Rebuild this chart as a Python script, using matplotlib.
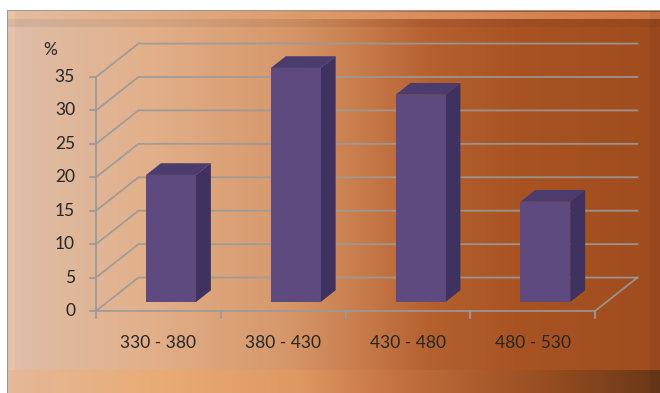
import numpy as np
import matplotlib
matplotlib.use('Agg')
import matplotlib.pyplot as plt
from matplotlib.patches import Polygon

# Data
categories = ['330 - 380', '380 - 430', '430 - 480', '480 - 530']
values = [19, 35, 31, 15]
y_ticks = [0, 5, 10, 15, 20, 25, 30, 35]
y_unit = '%'

W, H = 660, 393
# pixel -> data scale of the front plane
PX_X = 124.75      # px per category
PX_Y = 6.686       # px per value unit
X0_PX, Y0_PX = 96, 311
DX, DY = 0.34, 5.0  # depth offset in data units
F0, F1 = 0.27, 0.62  # bar position in depth


def band(x, stops):
    xs = [s[0] for s in stops]
    return np.stack([np.interp(x, xs, [s[1][k] for s in stops]) for k in range(3)], axis=-1) / 255.0


# background picture
cols = np.arange(W)
body = band(cols, [(0, (222, 190, 170)), (150, (226, 176, 138)), (290, (214, 150, 105)),
                   (360, (200, 124, 76)), (430, (181, 96, 47)), (520, (169, 83, 35)),
                   (660, (160, 76, 30))])
img = np.ones((H, W, 3))
img[11:, 8:] = body[8:]
top_light = band(cols, [(0, (230, 190, 160)), (300, (222, 155, 105)), (660, (208, 118, 68))])
img[12:19, 8:] = top_light[8:]
img[19:27, 8:] = body[8:] * 0.94
bottom = band(cols, [(0, (228, 185, 155)), (150, (234, 172, 118)), (300, (222, 152, 98)),
                     (400, (196, 112, 62)), (550, (150, 76, 32)), (660, (105, 55, 25))])
img[370:, 8:] = bottom[8:]
img[11:370, 8:15] = np.clip(img[11:370, 8:15] * 1.03, 0, 1)
img[10, 7:] = (0.6, 0.6, 0.6)
img[10:, 7] = (0.6, 0.6, 0.6)
img[11:, 650:] *= 0.95

fig = plt.figure(figsize=(W / 100, H / 100), dpi=100)
ax = fig.add_axes([0, 0, 1, 1])
xl = (-X0_PX / PX_X, (W - X0_PX) / PX_X)
yl = ((Y0_PX - H) / PX_Y, Y0_PX / PX_Y)
ax.imshow(img, extent=[xl[0], xl[1], yl[0], yl[1]], origin='upper', aspect='auto', zorder=0)
ax.set_xlim(*xl)
ax.set_ylim(*yl)
ax.axis('off')

n = len(categories)
ymax = y_ticks[-1]
grid = '#9a9a9a'

# walls and floor
for v in y_ticks:
    ax.plot([0, DX, n + DX], [v, v + DY, v + DY], color=grid, lw=1.3, alpha=0.9, zorder=1)
    ax.plot([-6 / PX_X, 0], [v, v], color=grid, lw=1.3, zorder=1)
ax.plot([0, n, n + DX], [0, 0, DY], color=grid, lw=1.3, alpha=0.9, zorder=1)
ax.plot([0, 0], [0, ymax], color=grid, lw=1.3, zorder=1)
for i in range(n + 1):
    ax.plot([i, i], [0, -7 / PX_Y], color=grid, lw=1.3, zorder=1)

# 3d bars
front_c, top_c, side_c = '#5f4a80', '#4c3b6d', '#3f3160'
for i, v in enumerate(values):
    x0, x1 = i + 0.31, i + 0.71
    a0x, a0y = F0 * DX, F0 * DY
    a1x, a1y = F1 * DX, F1 * DY
    ax.add_patch(Polygon([(x1 + a0x, a0y), (x1 + a1x, a1y), (x1 + a1x, v + a1y), (x1 + a0x, v + a0y)],
                         closed=True, facecolor=side_c, edgecolor='none', zorder=3))
    ax.add_patch(Polygon([(x0 + a0x, v + a0y), (x1 + a0x, v + a0y), (x1 + a1x, v + a1y), (x0 + a1x, v + a1y)],
                         closed=True, facecolor=top_c, edgecolor='none', zorder=3))
    ax.add_patch(Polygon([(x0 + a0x, a0y), (x1 + a0x, a0y), (x1 + a0x, v + a0y), (x0 + a0x, v + a0y)],
                         closed=True, facecolor=front_c, edgecolor='none', zorder=4))

# labels
font = dict(family=['Lato', 'DejaVu Sans'], size=12.5, color='#262626')
for v in y_ticks:
    ax.text(-21 / PX_X, v, str(v), ha='right', va='center', **font)
for i, c in enumerate(categories):
    ax.text(i + 0.5, (Y0_PX - 343) / PX_Y, c, ha='center', va='center', **font)
ax.text((50 - X0_PX) / PX_X, (Y0_PX - 50) / PX_Y, y_unit, ha='center', va='center', **font)

fig.savefig('out.png', dpi=100)
